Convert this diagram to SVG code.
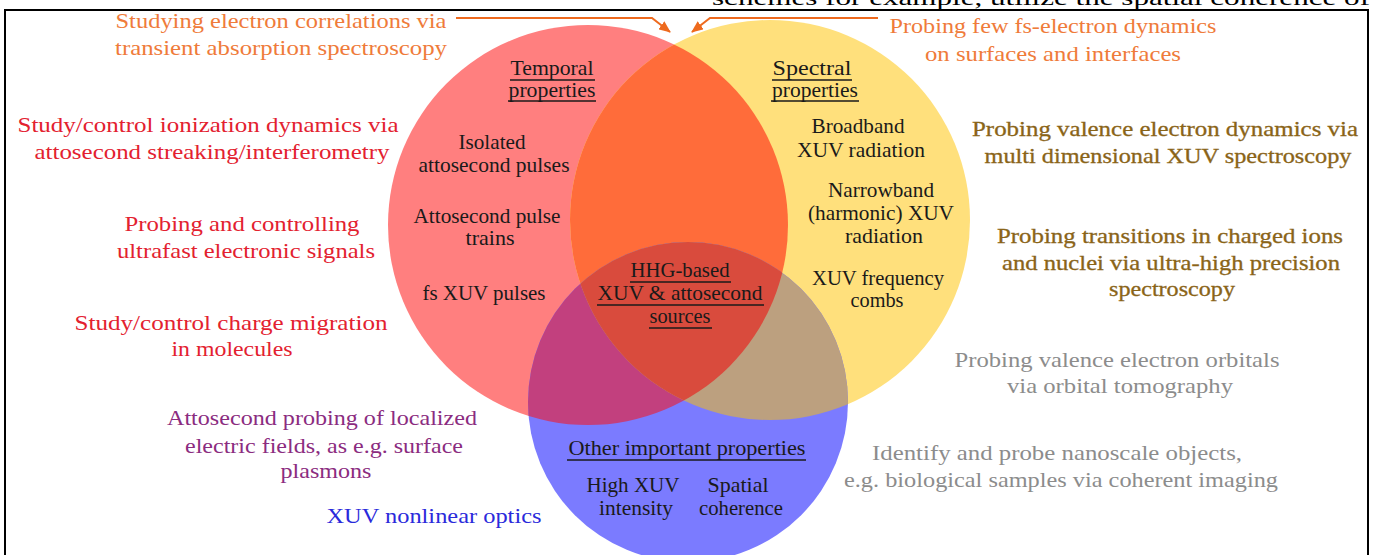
<svg xmlns="http://www.w3.org/2000/svg" width="1375" height="555" viewBox="0 0 1375 555">
<style>
text{font-family:"Liberation Serif","Times New Roman",Times,serif;text-anchor:middle;}
.o{font-size:21px;fill:#EF7B3A;}
.r{font-size:21px;fill:#E3212F;}
.g{font-size:21px;fill:#8A6418;stroke:#8A6418;stroke-width:0.3;}
.gr{font-size:21px;fill:#8C8C8C;}
.p{font-size:21px;fill:#8B2C80;}
.b{font-size:21px;fill:#2A2ADB;}
.k{font-size:21px;fill:#1a1a1a;}
.u{stroke:#1a1a1a;stroke-width:1.3;}
.arr{fill:none;stroke:#EE6A1E;stroke-width:2;marker-end:url(#ah);}
</style>
<defs>
<marker id="ah" markerUnits="userSpaceOnUse" markerWidth="12" markerHeight="10" refX="11" refY="5" orient="auto"><path d="M0,0 L12,5 L0,10 z" fill="#EE6A1E"/></marker>
<clipPath id="cRed"><circle cx="588" cy="225" r="200"/></clipPath>
<clipPath id="cYel"><circle cx="770" cy="220" r="200"/></clipPath>
</defs>
<rect width="1375" height="555" fill="#fff"/>
<text x="712" y="5" style="text-anchor:start;font-size:21px;fill:#000" textLength="658" lengthAdjust="spacingAndGlyphs">schemes for example, utilize the spatial coherence of</text>
<rect x="5" y="10" width="1363" height="560" fill="none" stroke="#000" stroke-width="2"/>

<g id="venn">
<circle cx="588" cy="225" r="200" fill="#FF7F7F"/>
<circle cx="770" cy="220" r="200" fill="#FFE07C"/>
<circle cx="770" cy="220" r="200" fill="#FF6C3A" clip-path="url(#cRed)"/>
<circle cx="688" cy="402" r="160" fill="#7B7BFF"/>
<circle cx="688" cy="402" r="160" fill="#C2407E" clip-path="url(#cRed)"/>
<circle cx="688" cy="402" r="160" fill="#BCA07F" clip-path="url(#cYel)"/>
<g clip-path="url(#cRed)"><circle cx="688" cy="402" r="160" fill="#D94B3D" clip-path="url(#cYel)"/></g>
</g>

<g id="temporal">
<text class="k" x="552" y="75" textLength="83" lengthAdjust="spacingAndGlyphs">Temporal</text>
<line class="u" x1="510" y1="80" x2="595" y2="80"/>
<text class="k" x="552" y="97" textLength="87" lengthAdjust="spacingAndGlyphs">properties</text>
<line class="u" x1="508" y1="101" x2="596" y2="101"/>
<text class="k" x="492" y="149" textLength="67" lengthAdjust="spacingAndGlyphs">Isolated</text>
<text class="k" x="494" y="172" textLength="151" lengthAdjust="spacingAndGlyphs">attosecond pulses</text>
<text class="k" x="487" y="223" textLength="147" lengthAdjust="spacingAndGlyphs">Attosecond pulse</text>
<text class="k" x="490" y="245" textLength="49" lengthAdjust="spacingAndGlyphs">trains</text>
<text class="k" x="484" y="300" textLength="123" lengthAdjust="spacingAndGlyphs">fs XUV pulses</text>
</g>

<g id="spectral">
<text class="k" x="812" y="75" textLength="79" lengthAdjust="spacingAndGlyphs">Spectral</text>
<line class="u" x1="772" y1="80" x2="852" y2="80"/>
<text class="k" x="815" y="97" textLength="86" lengthAdjust="spacingAndGlyphs">properties</text>
<line class="u" x1="771" y1="101" x2="859" y2="101"/>
<text class="k" x="858" y="133" textLength="93" lengthAdjust="spacingAndGlyphs">Broadband</text>
<text class="k" x="861" y="157" textLength="128" lengthAdjust="spacingAndGlyphs">XUV radiation</text>
<text class="k" x="881" y="197" textLength="106" lengthAdjust="spacingAndGlyphs">Narrowband</text>
<text class="k" x="881" y="220" textLength="146" lengthAdjust="spacingAndGlyphs">(harmonic) XUV</text>
<text class="k" x="884" y="243" textLength="78" lengthAdjust="spacingAndGlyphs">radiation</text>
<text class="k" x="878" y="285" textLength="132" lengthAdjust="spacingAndGlyphs">XUV frequency</text>
<text class="k" x="877" y="307" textLength="53" lengthAdjust="spacingAndGlyphs">combs</text>
</g>

<g id="hhg">
<text class="k" x="680" y="277" textLength="99" lengthAdjust="spacingAndGlyphs">HHG-based</text>
<line class="u" x1="630" y1="282" x2="731" y2="282"/>
<text class="k" x="680" y="300" textLength="165" lengthAdjust="spacingAndGlyphs">XUV &amp; attosecond</text>
<line class="u" x1="597" y1="305" x2="764" y2="305"/>
<text class="k" x="680" y="323" textLength="61" lengthAdjust="spacingAndGlyphs">sources</text>
<line class="u" x1="649" y1="328" x2="712" y2="328"/>
</g>

<g id="other">
<text class="k" x="687" y="455" textLength="237" lengthAdjust="spacingAndGlyphs">Other important properties</text>
<line class="u" x1="567" y1="460" x2="806" y2="460"/>
<text class="k" x="633" y="492" textLength="93" lengthAdjust="spacingAndGlyphs">High XUV</text>
<text class="k" x="636" y="515" textLength="74" lengthAdjust="spacingAndGlyphs">intensity</text>
<text class="k" x="738" y="492" textLength="61" lengthAdjust="spacingAndGlyphs">Spatial</text>
<text class="k" x="741" y="515" textLength="84" lengthAdjust="spacingAndGlyphs">coherence</text>
</g>

<g id="app-correlations">
<text class="o" x="281" y="28" textLength="331" lengthAdjust="spacingAndGlyphs">Studying electron correlations via</text>
<text class="o" x="281" y="55" textLength="332" lengthAdjust="spacingAndGlyphs">transient absorption spectroscopy</text>
</g>
<g id="app-surfaces">
<text class="o" x="1053" y="33" textLength="327" lengthAdjust="spacingAndGlyphs">Probing few fs-electron dynamics</text>
<text class="o" x="1053" y="61" textLength="256" lengthAdjust="spacingAndGlyphs">on surfaces and interfaces</text>
</g>
<g id="app-ionization">
<text class="r" x="208" y="132" textLength="381" lengthAdjust="spacingAndGlyphs">Study/control ionization dynamics via</text>
<text class="r" x="212" y="159" textLength="355" lengthAdjust="spacingAndGlyphs">attosecond streaking/interferometry</text>
</g>
<g id="app-signals">
<text class="r" x="242" y="231" textLength="235" lengthAdjust="spacingAndGlyphs">Probing and controlling</text>
<text class="r" x="246" y="258" textLength="258" lengthAdjust="spacingAndGlyphs">ultrafast electronic signals</text>
</g>
<g id="app-migration">
<text class="r" x="231" y="330" textLength="313" lengthAdjust="spacingAndGlyphs">Study/control charge migration</text>
<text class="r" x="232" y="356" textLength="121" lengthAdjust="spacingAndGlyphs">in molecules</text>
</g>
<g id="app-plasmons">
<text class="p" x="322" y="425" textLength="310" lengthAdjust="spacingAndGlyphs">Attosecond probing of localized</text>
<text class="p" x="324" y="453" textLength="278" lengthAdjust="spacingAndGlyphs">electric fields, as e.g. surface</text>
<text class="p" x="326" y="478" textLength="91" lengthAdjust="spacingAndGlyphs">plasmons</text>
</g>
<g id="app-nonlinear">
<text class="b" x="434" y="523" textLength="215" lengthAdjust="spacingAndGlyphs">XUV nonlinear optics</text>
</g>
<g id="app-valence">
<text class="g" x="1165" y="136" textLength="386" lengthAdjust="spacingAndGlyphs">Probing valence electron  dynamics via</text>
<text class="g" x="1168" y="163" textLength="367" lengthAdjust="spacingAndGlyphs">multi dimensional XUV spectroscopy</text>
</g>
<g id="app-ions">
<text class="g" x="1170" y="243" textLength="346" lengthAdjust="spacingAndGlyphs">Probing transitions in charged ions</text>
<text class="g" x="1171" y="270" textLength="338" lengthAdjust="spacingAndGlyphs">and nuclei via ultra-high precision</text>
<text class="g" x="1172" y="296" textLength="126" lengthAdjust="spacingAndGlyphs">spectroscopy</text>
</g>
<g id="app-tomography">
<text class="gr" x="1117" y="367" textLength="325" lengthAdjust="spacingAndGlyphs">Probing valence electron orbitals</text>
<text class="gr" x="1120" y="393" textLength="226" lengthAdjust="spacingAndGlyphs">via orbital tomography</text>
</g>
<g id="app-imaging">
<text class="gr" x="1057" y="460" textLength="370" lengthAdjust="spacingAndGlyphs">Identify and probe nanoscale objects,</text>
<text class="gr" x="1061" y="487" textLength="434" lengthAdjust="spacingAndGlyphs">e.g. biological samples via coherent imaging</text>
</g>

<g id="connectors">
<path class="arr" d="M456 18 H652 L670 32"/>
<path class="arr" d="M878 18 H710 L692 32"/>
</g>
</svg>
